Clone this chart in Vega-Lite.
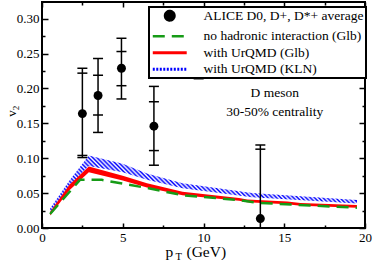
{
  "$schema": "https://vega.github.io/schema/vega-lite/v6.json",
  "width": 323,
  "height": 226,
  "autosize": {"type": "none"},
  "padding": {"left": 42, "top": 2, "right": 9, "bottom": 32},
  "config": {
    "font": "Liberation Serif",
    "view": {"stroke": "black", "strokeWidth": 2},
    "axis": {"domain": false, "grid": false, "tickColor": "black", "tickWidth": 1.5, "labelColor": "black", "labelFont": "Liberation Serif", "labelFontSize": 13, "titleFont": "Liberation Serif", "titleColor": "black", "titleFontWeight": "normal", "labelFlush": false, "labelOverlap": false}
  },
  "datasets": {
    "alice": [
      {"pt": 2.5, "v2": 0.164, "a_lo": 0.104, "a_hi": 0.222, "b_lo": 0.101, "b_hi": 0.229},
      {"pt": 3.47, "v2": 0.190, "a_lo": 0.162, "a_hi": 0.219, "b_lo": 0.137, "b_hi": 0.243},
      {"pt": 4.92, "v2": 0.229, "a_lo": 0.204, "a_hi": 0.253, "b_lo": 0.185, "b_hi": 0.272},
      {"pt": 6.93, "v2": 0.146, "a_lo": 0.111, "a_hi": 0.181, "b_lo": 0.090, "b_hi": 0.203},
      {"pt": 9.7, "v2": 0.262, "a_lo": 0.221, "a_hi": 0.303, "b_lo": 0.214, "b_hi": 0.31},
      {"pt": 13.52, "v2": 0.0135, "a_lo": -0.086, "a_hi": 0.113, "b_lo": -0.092, "b_hi": 0.119}
    ],
    "green": [
      {"pt": 0.5, "v": 0.020}, {"pt": 2.35, "v": 0.069}, {"pt": 3.7, "v": 0.069}, {"pt": 6.6, "v": 0.057},
      {"pt": 8.7, "v": 0.047}, {"pt": 12.2, "v": 0.040}, {"pt": 13.4, "v": 0.036}, {"pt": 19.5, "v": 0.029}
    ],
    "red": [
      {"pt": 0.5, "lo": 0.018, "hi": 0.023}, {"pt": 1.7, "lo": 0.054, "hi": 0.062}, {"pt": 2.9, "lo": 0.080, "hi": 0.088},
      {"pt": 5, "lo": 0.068, "hi": 0.075}, {"pt": 6.5, "lo": 0.058, "hi": 0.064}, {"pt": 8.7, "lo": 0.047, "hi": 0.052},
      {"pt": 12.2, "lo": 0.039, "hi": 0.043}, {"pt": 12.7, "lo": 0.037, "hi": 0.041}, {"pt": 15.2, "lo": 0.034, "hi": 0.038},
      {"pt": 16, "lo": 0.032, "hi": 0.036}, {"pt": 19.5, "lo": 0.029, "hi": 0.033}
    ],
    "blue": [
      {"pt": 0.5, "lo": 0.022, "hi": 0.028}, {"pt": 1.7, "lo": 0.061, "hi": 0.068}, {"pt": 2.9, "lo": 0.089, "hi": 0.104},
      {"pt": 5, "lo": 0.080, "hi": 0.092}, {"pt": 6.5, "lo": 0.069, "hi": 0.078}, {"pt": 8.7, "lo": 0.057, "hi": 0.064},
      {"pt": 13, "lo": 0.044, "hi": 0.050}, {"pt": 19.5, "lo": 0.035, "hi": 0.040}
    ]
  },
  "resolve": {"axis": {"x": "independent", "y": "independent"}},
  "layer": [
    {
      "data": {"name": "blue"},
      "mark": {"type": "area", "fill": {"gradient": "linear", "x1": 0, "y1": 1, "x2": 1, "y2": 0.815, "stops": [
        {"offset": 0, "color": "#00f"}, {"offset": 0.0067, "color": "#fff"}, {"offset": 0.0133, "color": "#00f"},
        {"offset": 0.02, "color": "#fff"}, {"offset": 0.0267, "color": "#00f"}, {"offset": 0.0333, "color": "#fff"},
        {"offset": 0.04, "color": "#00f"}, {"offset": 0.0467, "color": "#fff"}, {"offset": 0.0533, "color": "#00f"},
        {"offset": 0.06, "color": "#fff"}, {"offset": 0.0667, "color": "#00f"}, {"offset": 0.0733, "color": "#fff"},
        {"offset": 0.08, "color": "#00f"}, {"offset": 0.0867, "color": "#fff"}, {"offset": 0.0933, "color": "#00f"},
        {"offset": 0.10, "color": "#fff"}, {"offset": 0.1067, "color": "#00f"}, {"offset": 0.1133, "color": "#fff"},
        {"offset": 0.12, "color": "#00f"}, {"offset": 0.1267, "color": "#fff"}, {"offset": 0.1333, "color": "#00f"},
        {"offset": 0.14, "color": "#fff"}, {"offset": 0.1467, "color": "#00f"}, {"offset": 0.1533, "color": "#fff"},
        {"offset": 0.16, "color": "#00f"}, {"offset": 0.1667, "color": "#fff"}, {"offset": 0.1733, "color": "#00f"},
        {"offset": 0.18, "color": "#fff"}, {"offset": 0.1867, "color": "#00f"}, {"offset": 0.1933, "color": "#fff"},
        {"offset": 0.20, "color": "#00f"}, {"offset": 0.2067, "color": "#fff"}, {"offset": 0.2133, "color": "#00f"},
        {"offset": 0.22, "color": "#fff"}, {"offset": 0.2267, "color": "#00f"}, {"offset": 0.2333, "color": "#fff"},
        {"offset": 0.24, "color": "#00f"}, {"offset": 0.2467, "color": "#fff"}, {"offset": 0.2533, "color": "#00f"},
        {"offset": 0.26, "color": "#fff"}, {"offset": 0.2667, "color": "#00f"}, {"offset": 0.2733, "color": "#fff"},
        {"offset": 0.28, "color": "#00f"}, {"offset": 0.2867, "color": "#fff"}, {"offset": 0.2933, "color": "#00f"},
        {"offset": 0.30, "color": "#fff"}, {"offset": 0.3067, "color": "#00f"}, {"offset": 0.3133, "color": "#fff"},
        {"offset": 0.32, "color": "#00f"}, {"offset": 0.3267, "color": "#fff"}, {"offset": 0.3333, "color": "#00f"},
        {"offset": 0.34, "color": "#fff"}, {"offset": 0.3467, "color": "#00f"}, {"offset": 0.3533, "color": "#fff"},
        {"offset": 0.36, "color": "#00f"}, {"offset": 0.3667, "color": "#fff"}, {"offset": 0.3733, "color": "#00f"},
        {"offset": 0.38, "color": "#fff"}, {"offset": 0.3867, "color": "#00f"}, {"offset": 0.3933, "color": "#fff"},
        {"offset": 0.40, "color": "#00f"}, {"offset": 0.4067, "color": "#fff"}, {"offset": 0.4133, "color": "#00f"},
        {"offset": 0.42, "color": "#fff"}, {"offset": 0.4267, "color": "#00f"}, {"offset": 0.4333, "color": "#fff"},
        {"offset": 0.44, "color": "#00f"}, {"offset": 0.4467, "color": "#fff"}, {"offset": 0.4533, "color": "#00f"},
        {"offset": 0.46, "color": "#fff"}, {"offset": 0.4667, "color": "#00f"}, {"offset": 0.4733, "color": "#fff"},
        {"offset": 0.48, "color": "#00f"}, {"offset": 0.4867, "color": "#fff"}, {"offset": 0.4933, "color": "#00f"},
        {"offset": 0.50, "color": "#fff"}, {"offset": 0.5067, "color": "#00f"}, {"offset": 0.5133, "color": "#fff"},
        {"offset": 0.52, "color": "#00f"}, {"offset": 0.5267, "color": "#fff"}, {"offset": 0.5333, "color": "#00f"},
        {"offset": 0.54, "color": "#fff"}, {"offset": 0.5467, "color": "#00f"}, {"offset": 0.5533, "color": "#fff"},
        {"offset": 0.56, "color": "#00f"}, {"offset": 0.5667, "color": "#fff"}, {"offset": 0.5733, "color": "#00f"},
        {"offset": 0.58, "color": "#fff"}, {"offset": 0.5867, "color": "#00f"}, {"offset": 0.5933, "color": "#fff"},
        {"offset": 0.60, "color": "#00f"}, {"offset": 0.6067, "color": "#fff"}, {"offset": 0.6133, "color": "#00f"},
        {"offset": 0.62, "color": "#fff"}, {"offset": 0.6267, "color": "#00f"}, {"offset": 0.6333, "color": "#fff"},
        {"offset": 0.64, "color": "#00f"}, {"offset": 0.6467, "color": "#fff"}, {"offset": 0.6533, "color": "#00f"},
        {"offset": 0.66, "color": "#fff"}, {"offset": 0.6667, "color": "#00f"}, {"offset": 0.6733, "color": "#fff"},
        {"offset": 0.68, "color": "#00f"}, {"offset": 0.6867, "color": "#fff"}, {"offset": 0.6933, "color": "#00f"},
        {"offset": 0.70, "color": "#fff"}, {"offset": 0.7067, "color": "#00f"}, {"offset": 0.7133, "color": "#fff"},
        {"offset": 0.72, "color": "#00f"}, {"offset": 0.7267, "color": "#fff"}, {"offset": 0.7333, "color": "#00f"},
        {"offset": 0.74, "color": "#fff"}, {"offset": 0.7467, "color": "#00f"}, {"offset": 0.7533, "color": "#fff"},
        {"offset": 0.76, "color": "#00f"}, {"offset": 0.7667, "color": "#fff"}, {"offset": 0.7733, "color": "#00f"},
        {"offset": 0.78, "color": "#fff"}, {"offset": 0.7867, "color": "#00f"}, {"offset": 0.7933, "color": "#fff"},
        {"offset": 0.80, "color": "#00f"}, {"offset": 0.8067, "color": "#fff"}, {"offset": 0.8133, "color": "#00f"},
        {"offset": 0.82, "color": "#fff"}, {"offset": 0.8267, "color": "#00f"}, {"offset": 0.8333, "color": "#fff"},
        {"offset": 0.84, "color": "#00f"}, {"offset": 0.8467, "color": "#fff"}, {"offset": 0.8533, "color": "#00f"},
        {"offset": 0.86, "color": "#fff"}, {"offset": 0.8667, "color": "#00f"}, {"offset": 0.8733, "color": "#fff"},
        {"offset": 0.88, "color": "#00f"}, {"offset": 0.8867, "color": "#fff"}, {"offset": 0.8933, "color": "#00f"},
        {"offset": 0.90, "color": "#fff"}, {"offset": 0.9067, "color": "#00f"}, {"offset": 0.9133, "color": "#fff"},
        {"offset": 0.92, "color": "#00f"}, {"offset": 0.9267, "color": "#fff"}, {"offset": 0.9333, "color": "#00f"},
        {"offset": 0.94, "color": "#fff"}, {"offset": 0.9467, "color": "#00f"}, {"offset": 0.9533, "color": "#fff"},
        {"offset": 0.96, "color": "#00f"}, {"offset": 0.9667, "color": "#fff"}, {"offset": 0.9733, "color": "#00f"},
        {"offset": 0.98, "color": "#fff"}, {"offset": 0.9867, "color": "#00f"}, {"offset": 0.9933, "color": "#fff"},
        {"offset": 1, "color": "#00f"}
      ]}},
      "encoding": {
        "x": {"field": "pt", "type": "quantitative", "scale": {"domain": [0, 20], "nice": false, "zero": false},
              "axis": {"orient": "bottom", "values": [0, 5, 10, 15, 20], "tickSize": -5, "labelPadding": 8, "format": "d", "title": "p", "titleFontSize": 15.5, "titleX": 123, "titleY": 28.5, "titleAlign": "left", "titleBaseline": "alphabetic"}},
        "y": {"field": "lo", "type": "quantitative", "scale": {"domain": [0, 0.324], "nice": false},
              "axis": {"orient": "left", "values": [0, 0.05, 0.1, 0.15, 0.2, 0.25, 0.3], "tickSize": -6, "labelPadding": 9, "format": ".2f", "title": "v", "titleFontSize": 13, "titleAngle": -90, "titleX": -27, "titleY": 111, "titleAlign": "center", "titleBaseline": "alphabetic"}},
        "y2": {"field": "hi"}
      }
    },
    {
      "data": {"name": "red"},
      "mark": {"type": "area", "opacity": 1},
      "encoding": {
        "x": {"field": "pt", "type": "quantitative",
              "axis": {"orient": "bottom", "values": [2.5, 7.5, 12.5, 17.5], "tickSize": -3, "labels": false, "title": "T", "titleFontSize": 10.5, "titleX": 133, "titleY": 31, "titleAlign": "left", "titleBaseline": "alphabetic"}},
        "y": {"field": "lo", "type": "quantitative",
              "axis": {"orient": "left", "values": [0.025, 0.075, 0.125, 0.175, 0.225, 0.275], "tickSize": -3, "labels": false, "title": "2", "titleFontSize": 9, "titleAngle": -90, "titleX": -24, "titleY": 105.5, "titleAlign": "center", "titleBaseline": "alphabetic"}},
        "y2": {"field": "hi"},
        "color": {"datum": "with UrQMD (Glb)", "scale": {"domain": ["ALICE D0, D+, D*+ average", "no hadronic interaction (Glb)", "with UrQMD (Glb)", "with UrQMD (KLN)"], "range": ["black", "#169b16", "#ff0000", "#0000ff"]},
          "legend": {
            "title": null, "orient": "none", "legendX": 107, "legendY": 5,
            "padding": 2, "rowPadding": 1.5, "symbolSize": 128, "symbolOffset": 12, "labelOffset": 27,
            "labelFontSize": 13.5, "labelFont": "Liberation Serif", "labelColor": "black", "labelLimit": 400,
            "strokeColor": "black", "fillColor": "white",
            "encoding": {
              "legend": {"strokeWidth": {"value": 2}},
              "symbols": {
                "shape": {"value": {"expr": "datum.value === 'ALICE D0, D+, D*+ average' ? 'circle' : 'M-3,0H3'"}},
                "size": {"value": {"expr": "datum.value === 'ALICE D0, D+, D*+ average' ? 80 : 128"}},
                "fill": {"value": {"expr": "datum.value === 'ALICE D0, D+, D*+ average' ? 'black' : 'transparent'"}},
                "stroke": {"value": {"expr": "datum.value === 'no hadronic interaction (Glb)' ? '#169b16' : datum.value === 'with UrQMD (Glb)' ? '#ff0000' : datum.value === 'with UrQMD (KLN)' ? '#0000ff' : 'transparent'"}},
                "strokeWidth": {"value": {"expr": "datum.value === 'no hadronic interaction (Glb)' ? 2.5 : 3"}},
                "strokeDash": {"value": {"expr": "datum.value === 'no hadronic interaction (Glb)' ? [12, 7] : datum.value === 'with UrQMD (KLN)' ? [2, 1.5] : [1, 0]"}},
                "opacity": {"value": 1},
                "fillOpacity": {"value": 1},
                "strokeOpacity": {"value": 1}
              }
            }
          }
        }
      }
    },
    {
      "data": {"name": "green"},
      "mark": {"type": "line", "strokeWidth": 2.5, "strokeDash": [12, 7]},
      "encoding": {
        "x": {"field": "pt", "type": "quantitative",
              "axis": {"orient": "top", "values": [0, 5, 10, 15, 20], "tickSize": -5, "labels": false, "title": "(GeV)", "titleFontSize": 15.5, "titleX": 144, "titleY": 254.5, "titleAlign": "left", "titleBaseline": "alphabetic"}},
        "y": {"field": "v", "type": "quantitative",
              "axis": {"orient": "right", "values": [0, 0.05, 0.1, 0.15, 0.2, 0.25, 0.3], "tickSize": -6, "labels": false, "title": null}},
        "color": {"datum": "no hadronic interaction (Glb)", "scale": {"domain": ["ALICE D0, D+, D*+ average", "no hadronic interaction (Glb)", "with UrQMD (Glb)", "with UrQMD (KLN)"], "range": ["black", "#169b16", "#ff0000", "#0000ff"]}}
      }
    },
    {
      "data": {"name": "alice"},
      "mark": {"type": "rule", "color": "black", "strokeWidth": 1.5, "clip": true},
      "encoding": {
        "x": {"field": "pt", "type": "quantitative",
              "axis": {"orient": "top", "values": [2.5, 7.5, 12.5, 17.5], "tickSize": -3, "labels": false, "title": null}},
        "y": {"field": "b_lo", "type": "quantitative",
              "axis": {"orient": "right", "values": [0.025, 0.075, 0.125, 0.175, 0.225, 0.275], "tickSize": -3, "labels": false, "title": null}},
        "y2": {"field": "b_hi"}
      }
    },
    {
      "data": {"name": "alice"},
      "transform": [{"fold": ["a_lo", "a_hi", "b_lo", "b_hi"], "as": ["k", "val"]}],
      "mark": {"type": "tick", "orient": "horizontal", "size": 10, "thickness": 1.5, "color": "black", "clip": true, "opacity": 1},
      "encoding": {
        "x": {"field": "pt", "type": "quantitative", "axis": null},
        "y": {"field": "val", "type": "quantitative", "axis": null}
      }
    },
    {
      "data": {"name": "alice"},
      "mark": {"type": "point", "filled": true, "size": 80, "opacity": 1},
      "encoding": {
        "x": {"field": "pt", "type": "quantitative", "axis": null},
        "y": {"field": "v2", "type": "quantitative", "axis": null},
        "color": {"datum": "ALICE D0, D+, D*+ average", "scale": {"domain": ["ALICE D0, D+, D*+ average", "no hadronic interaction (Glb)", "with UrQMD (Glb)", "with UrQMD (KLN)"], "range": ["black", "#169b16", "#ff0000", "#0000ff"]}}
      }
    },
    {
      "data": {"values": [{"label": "D meson"}]},
      "mark": {"type": "text", "fontSize": 13.5, "font": "Liberation Serif", "color": "black", "baseline": "middle", "align": "center"},
      "encoding": {
        "x": {"datum": 14.41, "type": "quantitative", "axis": null},
        "y": {"datum": 0.193, "type": "quantitative", "axis": null},
        "text": {"field": "label"}
      }
    },
    {
      "data": {"values": [{"label": "30-50% centrality"}]},
      "mark": {"type": "text", "fontSize": 13.5, "font": "Liberation Serif", "color": "black", "baseline": "middle", "align": "center"},
      "encoding": {
        "x": {"datum": 14.41, "type": "quantitative", "axis": null},
        "y": {"datum": 0.166, "type": "quantitative", "axis": null},
        "text": {"field": "label"}
      }
    }
  ]
}
